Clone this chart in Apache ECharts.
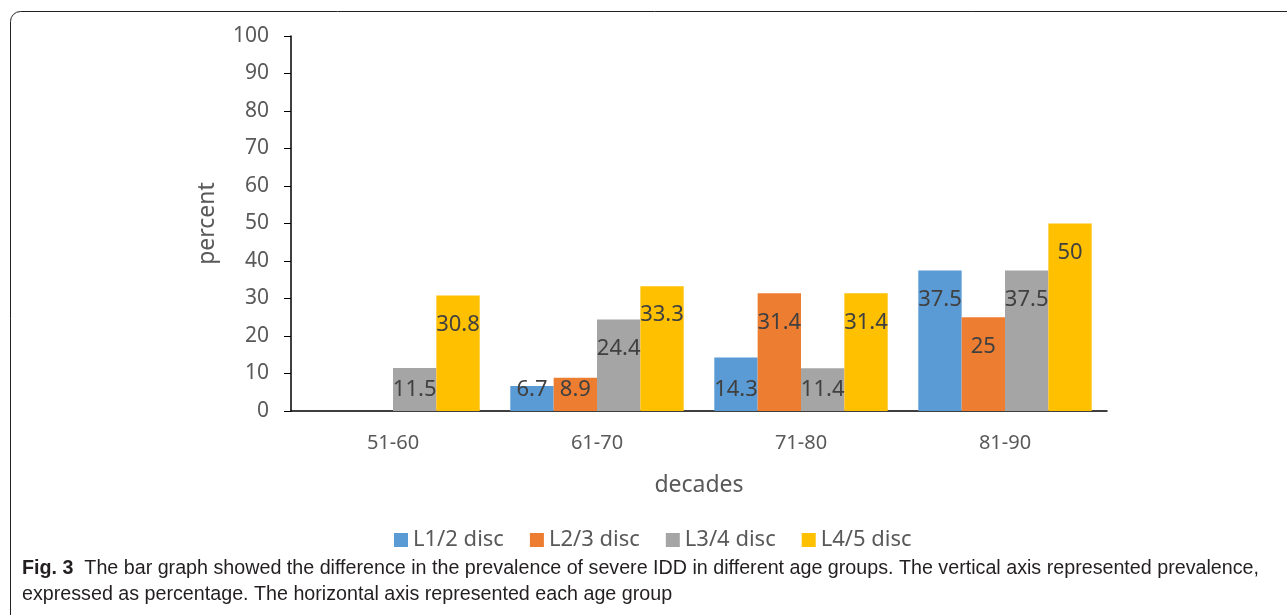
<!DOCTYPE html>
<html lang="en">
<head>
    <meta charset="UTF-8">
    <title>IDD by age group</title>
    <script src="https://cdn.jsdelivr.net/npm/echarts@6/dist/echarts.min.js"></script>
    <style>
        html, body { margin: 0; padding: 0; background: #fff; }
        #main { width: 1287px; height: 615px; }
    </style>
</head>
<body>
    <div id="main"></div>
<script>
    var decades = ['51-60', '61-70', '71-80', '81-90'];
    var l12 = [0, 6.7, 14.3, 37.5];
    var l23 = [0, 8.9, 31.4, 25];
    var l34 = [11.5, 24.4, 11.4, 37.5];
    var l45 = [30.8, 33.3, 31.4, 50];
    var yTicks = [0, 10, 20, 30, 40, 50, 60, 70, 80, 90, 100];

    var chart = echarts.init(document.getElementById('main'));
    var font = 'Noto Sans';

    // excel-like "inside end" labels; short bars get their label pushed up from the axis
    function barData(vals) {
        return vals.map(function (v) {
            if (!v) return { value: v, label: { show: false } };
            if (v < 15) return { value: v, label: { position: 'insideBottom', distance: 10 } };
            return { value: v };
        });
    }

    function makeSeries(name, vals, color) {
        return {
            name: name,
            type: 'bar',
            data: barData(vals),
            barGap: '0%',
            barCategoryGap: '15%',
            itemStyle: { color: color },
            label: {
                show: true,
                position: 'insideTop',
                distance: 18,
                color: '#404040',
                fontSize: 22,
                fontFamily: font
            }
        };
    }

    var option = {
        animation: false,
        textStyle: { fontFamily: font },
        grid: { left: 291, right: 180, top: 36, bottom: 204 },
        legend: {
            bottom: 59,
            left: 389,
            itemWidth: 14,
            itemHeight: 14,
            itemGap: 26,
            icon: 'rect',
            textStyle: { color: '#595959', fontSize: 22, fontFamily: font },
            data: ['L1/2 disc', 'L2/3 disc', 'L3/4 disc', 'L4/5 disc']
        },
        xAxis: {
            type: 'category',
            data: decades,
            name: 'decades',
            nameLocation: 'middle',
            nameGap: 63,
            nameTextStyle: { color: '#595959', fontSize: 23 },
            axisLine: { lineStyle: { color: '#000', width: 1.5 } },
            axisTick: { show: false },
            axisLabel: { color: '#595959', fontSize: 20, margin: 22 }
        },
        yAxis: {
            type: 'value',
            min: yTicks[0],
            max: yTicks[yTicks.length - 1],
            interval: 10,
            name: 'percent',
            nameLocation: 'middle',
            nameGap: 72,
            nameTextStyle: { color: '#595959', fontSize: 23 },
            axisLine: { show: true, lineStyle: { color: '#000', width: 1.5 } },
            axisTick: { show: true, inside: false, length: 7, lineStyle: { color: '#000' } },
            splitLine: { show: false },
            axisLabel: { color: '#595959', fontSize: 21, margin: 22 }
        },
        series: [
            makeSeries('L1/2 disc', l12, '#5b9bd5'),
            makeSeries('L2/3 disc', l23, '#ed7d31'),
            makeSeries('L3/4 disc', l34, '#a5a5a5'),
            makeSeries('L4/5 disc', l45, '#ffc000')
        ],
        graphic: [
            {
                type: 'rect',
                shape: { x: 10.5, y: 11.5, width: 1400, height: 700, r: 10 },
                style: { fill: 'none', stroke: '#222', lineWidth: 1 },
                silent: true
            },
            {
                type: 'text',
                left: 22,
                top: 556,
                style: {
                    text: '{b|Fig. 3}  The bar graph showed the difference in the prevalence of severe IDD in different age groups. The vertical axis represented prevalence,\nexpressed as percentage. The horizontal axis represented each age group',
                    fontSize: 19.7,
                    fontFamily: 'Liberation Sans',
                    fill: '#231f20',
                    lineHeight: 26,
                    rich: {
                        b: { fontWeight: 'bold', fontSize: 19.7, fontFamily: 'Liberation Sans', fill: '#231f20', lineHeight: 26 }
                    }
                }
            }
        ]
    };

    chart.setOption(option);
</script>
</body>
</html>
